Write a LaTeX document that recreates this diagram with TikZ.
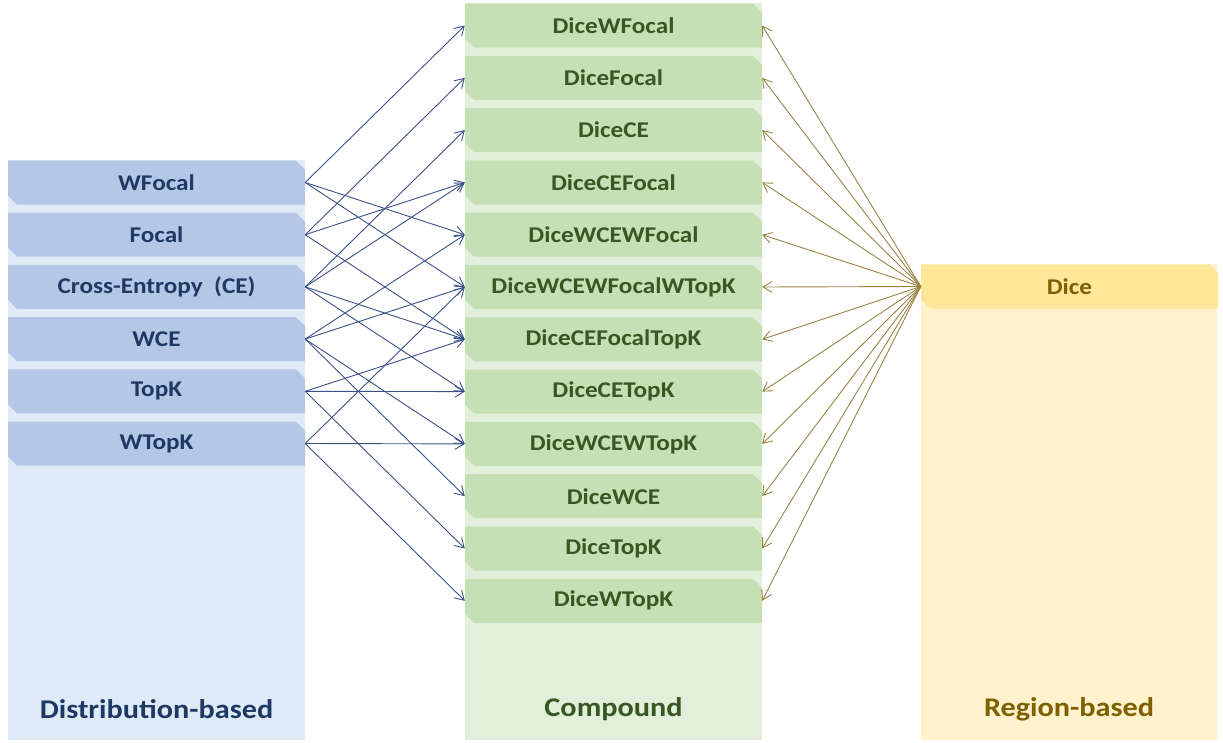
\documentclass[tikz,border=0pt]{standalone}
\usepackage{fontspec}
\setmainfont{Carlito}[FakeStretch=1.12]
\usetikzlibrary{arrows.meta}
\definecolor{lbg}{HTML}{DEEAF6}
\definecolor{lbox}{HTML}{B4C7E7}
\definecolor{ltxt}{HTML}{1F3864}
\definecolor{mbg}{HTML}{E2EFDA}
\definecolor{mbox}{HTML}{C5E0B4}
\definecolor{mtxt}{HTML}{385723}
\definecolor{rbg}{HTML}{FFF2CC}
\definecolor{rbox}{HTML}{FFE699}
\definecolor{rtxt}{HTML}{7F6000}
\definecolor{barrow}{HTML}{3A5087}
\definecolor{garrow}{HTML}{9A8444}
\tikzset{
  lossbox/.style={rectangle, minimum width=297pt, minimum height=44pt, inner sep=0pt,
    font=\bfseries\fontsize{22.5}{24}\selectfont},
  lbx/.style={lossbox, text=ltxt},
  mbx/.style={lossbox, text=mtxt},
  rbx/.style={lossbox, text=rtxt},
  lbxfill/.style={fill=lbox},
  mbxfill/.style={fill=mbox},
  rbxfill/.style={fill=rbox},
  title/.style={font=\bfseries\fontsize{27}{30}\selectfont},
  barr/.style={draw=barrow, line width=0.9pt, -{Straight Barb[length=9pt,width=11pt]}},
  garr/.style={draw=garrow, line width=0.9pt, -{Straight Barb[length=9pt,width=11pt]}},
}
% #1 style, #2 name, #3 x, #4 y, #5 text
\newcommand\lossnode[5]{%
  \fill[#1fill, shift={(#3,#4)}] (-148.5,-22) -- (139.5,-22) -- (148.5,-13) -- (148.5,22)
    -- (-139.5,22) -- (-148.5,13) -- cycle;
  \node[#1] (#2) at (#3,#4) {#5};
}
\begin{document}
\begin{tikzpicture}[x=1pt,y=-1pt]
\useasboundingbox (0,0) rectangle (1223,742);
% panels
\fill[lbg] (8,160) rectangle (305,740);
\fill[mbg] (465,3) rectangle (762,740);
\fill[rbg] (921,264) rectangle (1217,740);
% left boxes
\lossnode{lbx}{l1}{156.5}{182.5}{WFocal}
\lossnode{lbx}{l2}{156.5}{234.7}{Focal}
\lossnode{lbx}{l3}{156.5}{286.9}{Cross-Entropy\ \ (CE)}
\lossnode{lbx}{l4}{156.5}{339.1}{WCE}
\lossnode{lbx}{l5}{156.5}{391.3}{TopK}
\lossnode{lbx}{l6}{156.5}{443.5}{WTopK}
% middle boxes
\lossnode{mbx}{m1}{613.5}{25.5}{DiceWFocal}
\lossnode{mbx}{m2}{613.5}{77.8}{DiceFocal}
\lossnode{mbx}{m3}{613.5}{130.1}{DiceCE}
\lossnode{mbx}{m4}{613.5}{182.4}{DiceCEFocal}
\lossnode{mbx}{m5}{613.5}{234.7}{DiceWCEWFocal}
\lossnode{mbx}{m6}{613.5}{287.0}{DiceWCEWFocalWTopK}
\lossnode{mbx}{m7}{613.5}{339.3}{DiceCEFocalTopK}
\lossnode{mbx}{m8}{613.5}{391.6}{DiceCETopK}
\lossnode{mbx}{m9}{613.5}{443.9}{DiceWCEWTopK}
\lossnode{mbx}{m10}{613.5}{496.2}{DiceWCE}
\lossnode{mbx}{m11}{613.5}{548.5}{DiceTopK}
\lossnode{mbx}{m12}{613.5}{600.8}{DiceWTopK}
% right box
\lossnode{rbx}{dice}{1069.5}{286.5}{Dice}
% titles
\node[title, text=ltxt] (t1) at (156.5,709) {Distribution-based};
\node[title, text=mtxt] (t2) at (613.5,709) {Compound};
\node[title, text=rtxt] (t3) at (1069,709) {Region-based};
% blue connectors
\foreach \s/\t in {l1/m1,l1/m5,l1/m6,l2/m2,l2/m4,l2/m7,l3/m3,l3/m4,l3/m7,l3/m8,
  l4/m5,l4/m6,l4/m9,l4/m10,l5/m7,l5/m8,l5/m11,l6/m6,l6/m9,l6/m12}
  \draw[barr] (\s.east) -- (\t.west);
% gold connectors
\foreach \t in {m1,m2,m3,m4,m5,m6,m7,m8,m9,m10,m11,m12}
  \draw[garr] (dice.west) -- (\t.east);
\end{tikzpicture}
\end{document}
